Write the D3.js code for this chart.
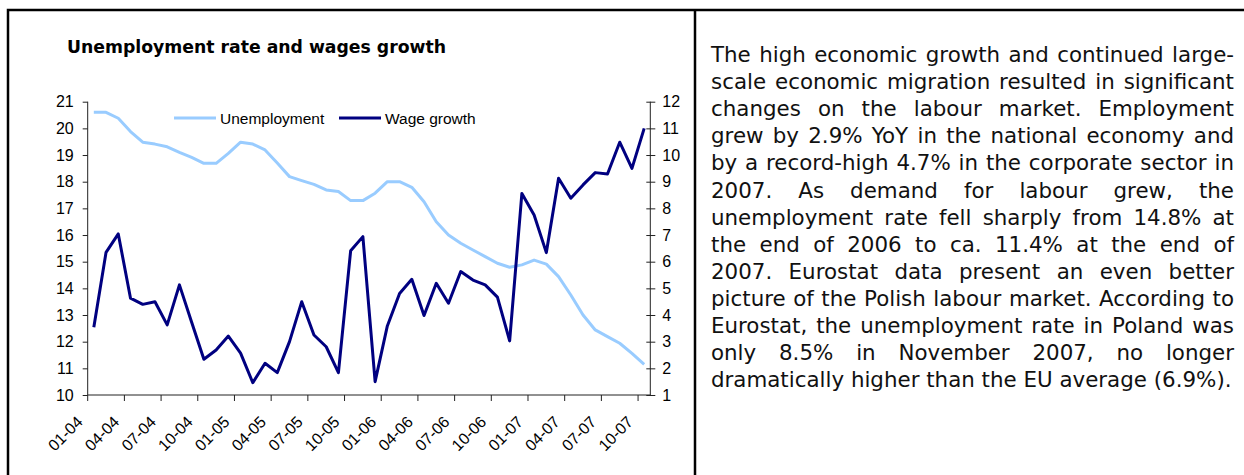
<!DOCTYPE html>
<html>
<head>
<meta charset="utf-8">
<script src="https://cdn.jsdelivr.net/npm/d3@7"></script>
<style>
body { margin: 0; background: #fff; }
svg { display: block; }
</style>
</head>
<body>
<svg id="svg1"></svg>
<script>
const months = [
    "01-04","02-04","03-04","04-04","05-04","06-04","07-04","08-04","09-04","10-04","11-04","12-04",
    "01-05","02-05","03-05","04-05","05-05","06-05","07-05","08-05","09-05","10-05","11-05","12-05",
    "01-06","02-06","03-06","04-06","05-06","06-06","07-06","08-06","09-06","10-06","11-06","12-06",
    "01-07","02-07","03-07","04-07","05-07","06-07","07-07","08-07","09-07","10-07"
];
const tickLabels = ["01-04","04-04","07-04","10-04","01-05","04-05","07-05","10-05",
    "01-06","04-06","07-06","10-06","01-07","04-07","07-07","10-07"];
const unemployment = [20.6, 20.6, 20.38, 19.88, 19.48, 19.41, 19.31, 19.1, 18.91, 18.69,
    18.69, 19.06, 19.48, 19.41, 19.19, 18.7, 18.19, 18.04, 17.9, 17.69,
    17.63, 17.29, 17.29, 17.57, 18.0, 18.0, 17.79, 17.25, 16.5, 16.0,
    15.69, 15.44, 15.19, 14.94, 14.79, 14.88, 15.06, 14.91, 14.44, 13.75,
    13.0, 12.44, 12.19, 11.94, 11.56, 11.15];
const wageGrowth = [3.54, 6.35, 7.04, 4.63, 4.40, 4.50, 3.63, 5.13, 3.73, 2.34,
    2.69, 3.21, 2.57, 1.46, 2.19, 1.84, 3.0, 4.5, 3.25, 2.81,
    1.84, 6.41, 6.94, 1.5, 3.59, 4.81, 5.34, 3.98, 5.19, 4.44,
    5.63, 5.31, 5.13, 4.67, 3.03, 8.56, 7.75, 6.34, 9.13, 8.38,
    8.88, 9.34, 9.29, 10.48, 9.5, 11.0];
const leftTicks = [10, 11, 12, 13, 14, 15, 16, 17, 18, 19, 20, 21];
const rightTicks = [1, 2, 3, 4, 5, 6, 7, 8, 9, 10, 11, 12];
const seriesNames = ["Unemployment", "Wage growth"];
const paragraphLines = [
    "The high economic growth and continued large-",
    "scale economic migration resulted in significant",
    "changes on the labour market. Employment",
    "grew by 2.9% YoY in the national economy and",
    "by a record-high 4.7% in the corporate sector in",
    "2007. As demand for labour grew, the",
    "unemployment rate fell sharply from 14.8% at",
    "the end of 2006 to ca. 11.4% at the end of",
    "2007. Eurostat data present an even better",
    "picture of the Polish labour market. According to",
    "Eurostat, the unemployment rate in Poland was",
    "only 8.5% in November 2007, no longer",
    "dramatically higher than the EU average (6.9%)."
];

const svgWidth = 1244;
const svgHeight = 475;
const svg = d3.select('#svg1')
    .attr('width', svgWidth)
    .attr('height', svgHeight);

// frame
svg.append('path')
    .attr('d', 'M8,475 V10 H1244 M695,10 V475')
    .attr('fill', 'none')
    .attr('stroke', '#000')
    .attr('stroke-width', 2.5);

const plotLeft = 87.7, plotRight = 650.3, plotTop = 101.7, plotBottom = 395;
const axisFont = 'Liberation Sans, Arial, sans-serif';

const x = d3.scaleBand()
    .domain(months)
    .range([plotLeft, plotRight]);
const yLeft = d3.scaleLinear().domain([10, 21]).range([plotBottom, plotTop]);
const yRight = d3.scaleLinear().domain([1, 12]).range([plotBottom, plotTop]);
const cx = m => x(m) + x.bandwidth() / 2;

// title
svg.append('text')
    .attr('x', 67)
    .attr('y', 53)
    .attr('font-family', 'DejaVu Sans, sans-serif')
    .attr('font-weight', 'bold')
    .attr('font-size', 17)
    .attr('textLength', 379)
    .attr('lengthAdjust', 'spacingAndGlyphs')
    .text('Unemployment rate and wages growth');

// left axis
const leftAxis = d3.axisLeft(yLeft).tickValues(leftTicks).tickSize(5).tickPadding(9);
const gl = svg.append('g')
    .attr('transform', `translate(${plotLeft},0)`)
    .call(leftAxis);
// right axis
const rightAxis = d3.axisRight(yRight).tickValues(rightTicks).tickSize(5).tickPadding(7);
const gr = svg.append('g')
    .attr('transform', `translate(${plotRight},0)`)
    .call(rightAxis);
gr.selectAll('.tick line').attr('x1', -4);

for (const g of [gl, gr]) {
    g.select('.domain').attr('d', `M0,${plotTop}V${plotBottom}`);
    g.selectAll('text')
        .attr('font-family', axisFont)
        .attr('font-size', 16)
        .attr('fill', '#000');
}
svg.selectAll('.domain, .tick line').attr('stroke', '#222');

// x axis: ticks between every third category
const gx = svg.append('g');
gx.append('line')
    .attr('x1', plotLeft).attr('x2', plotRight)
    .attr('y1', plotBottom).attr('y2', plotBottom)
    .attr('stroke', '#222');
tickLabels.forEach(lbl => {
    const tx = x(lbl);
    gx.append('line')
        .attr('x1', tx).attr('x2', tx)
        .attr('y1', plotBottom).attr('y2', plotBottom + 6)
        .attr('stroke', '#222');
    gx.append('text')
        .attr('transform', `translate(${tx - 4},${plotBottom + 28}) rotate(-45)`)
        .attr('text-anchor', 'end')
        .attr('font-family', axisFont)
        .attr('font-size', 16)
        .text(lbl);
});

// lines
const colors = ['#99CCFF', '#000080'];
const uLine = d3.line()
    .x((d, i) => cx(months[i]))
    .y(d => yLeft(d));
const wLine = d3.line()
    .x((d, i) => cx(months[i]))
    .y(d => yRight(d));
svg.append('path')
    .datum(unemployment)
    .attr('d', uLine)
    .attr('fill', 'none')
    .attr('stroke', colors[0])
    .attr('stroke-width', 3)
    .attr('stroke-linejoin', 'round');
svg.append('path')
    .datum(wageGrowth)
    .attr('d', wLine)
    .attr('fill', 'none')
    .attr('stroke', colors[1])
    .attr('stroke-width', 3)
    .attr('stroke-linejoin', 'round');

// legend
const legendX = [174, 339];
seriesNames.forEach((name, i) => {
    svg.append('line')
        .attr('x1', legendX[i]).attr('x2', legendX[i] + 42)
        .attr('y1', 118).attr('y2', 118)
        .attr('stroke', colors[i])
        .attr('stroke-width', 3);
    svg.append('text')
        .attr('x', legendX[i] + 46)
        .attr('y', 123.5)
        .attr('font-family', axisFont)
        .attr('font-size', 15.5)
        .text(name);
});

// justified paragraph, font size fitted so the last (unjustified) line spans like the original
const textLeft = 711, textRight = 1234, firstBase = 62, lineGap = 27.1;
const para = svg.append('g')
    .attr('font-family', 'DejaVu Sans, sans-serif')
    .attr('font-size', 20)
    .attr('fill', '#111');
const lastProbe = para.append('text').text(paragraphLines[paragraphLines.length - 1]);
const fitSize = 20 * 521 / lastProbe.node().getComputedTextLength();
lastProbe.remove();
para.attr('font-size', fitSize);
const probe = para.append('text').text('a a');
const probe2 = para.append('text').text('aa');
const spaceW = probe.node().getComputedTextLength() - probe2.node().getComputedTextLength();
probe.remove();
probe2.remove();
paragraphLines.forEach((line, li) => {
    const words = line.split(' ');
    const y = firstBase + li * lineGap;
    const nodes = words.map(w => para.append('text').attr('y', y).text(w));
    const widths = nodes.map(n => n.node().getComputedTextLength());
    const total = d3.sum(widths);
    const last = li === paragraphLines.length - 1;
    let gap = last ? spaceW : (textRight - textLeft - total) / (words.length - 1);
    if (gap < spaceW * 0.6) gap = spaceW * 0.6;
    let px = textLeft;
    nodes.forEach((n, i) => {
        n.attr('x', px);
        px += widths[i] + gap;
    });
});
</script>
</body>
</html>
